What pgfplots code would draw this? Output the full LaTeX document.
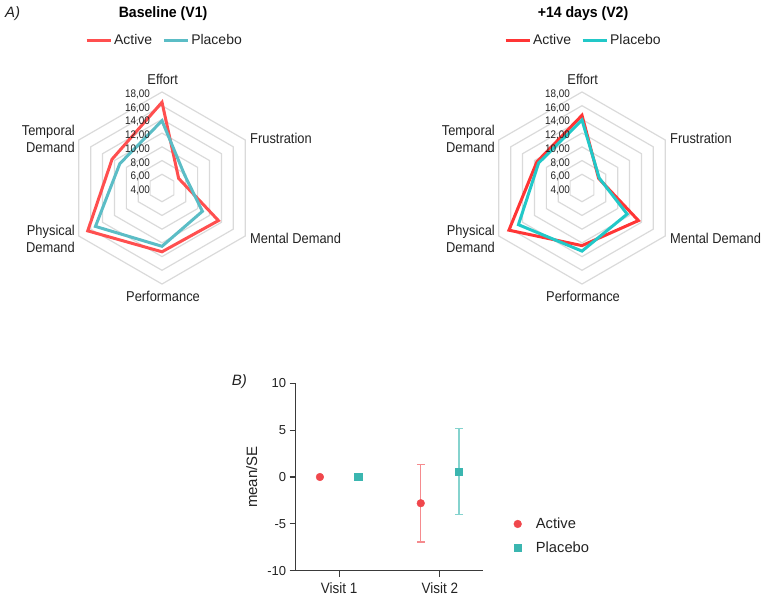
\documentclass[border=0pt]{standalone}
\usepackage{fontspec}
\setmainfont{Liberation Sans}
\usepackage{graphicx}
\usepackage{pgfplots}
\usepackage{pgfplotstable}
\pgfplotsset{compat=1.18}

\definecolor{redA}{HTML}{FF4F4F}
\definecolor{tealA}{HTML}{5BBDC6}
\definecolor{redB}{HTML}{FF3535}
\definecolor{tealB}{HTML}{22C8C8}
\definecolor{gridc}{HTML}{DADADA}
\definecolor{txt}{HTML}{222222}
\definecolor{actm}{HTML}{F0474C}
\definecolor{placm}{HTML}{3BB6B0}
\definecolor{acterr}{HTML}{F58B8E}
\definecolor{placerr}{HTML}{85D3CE}
\definecolor{axc}{HTML}{3A3A3A}

\newcommand\fs[1]{\fontsize{#1bp}{1.15\dimexpr #1bp\relax}\selectfont}
\newcommand\sq[2]{\scalebox{#1}[1]{#2}}

% radar data: angle (deg), value
\pgfplotstableread{
a v
90 16.5
30 6.8
-30 13.5
-90 13.3
-150 16.5
150 12.4
90 16.5
30 6.8
}\VoneActive
\pgfplotstableread{
a v
90 13.8
30 7.8
-30 10.8
-90 12.5
-150 15.2
150 11.1
90 13.8
30 7.8
}\VonePlacebo
\pgfplotstableread{
a v
90 14.6
30 6.8
-30 13.5
-90 12.4
-150 16.3
150 11.6
90 14.6
30 6.8
}\VtwoActive
\pgfplotstableread{
a v
90 13.9
30 6.9
-30 11.6
-90 13.2
-150 14.7
150 11.3
90 13.9
30 6.9
}\VtwoPlacebo
\pgfplotstableread{
a d
90 1
30 1
-30 1
-90 1
-150 1
150 1
90 1
30 1
}\ringtab

% scatter data
\pgfplotstableread{
x y
0.81 0
1.81 -2.8
}\actpts
\pgfplotstableread{
x y
1.19 0
2.19 0.57
}\placpts
\pgfplotstableread{
x y e
1.81 -2.8 4.15
}\acterrtab
\pgfplotstableread{
x y e
2.19 0.57 4.57
}\placerrtab

\pgfplotsset{
  radar/.style={hide axis, scale only axis, width=192.08bp, height=192.08bp,
    xmin=-14, xmax=14, ymin=-14, ymax=14, clip=false, anchor=center,
    legend columns=2, legend cell align=left,
    legend style={draw=none, fill=none, font=\fs{14}, text=txt, anchor=center,
      /tikz/every even column/.append style={column sep=8bp}},
    legend image code/.code={\draw[##1] (0bp,0bp) -- (24bp,0bp);}},
}

\newcommand\rings{%
  \pgfplotsinvokeforeach{6,8,10,12,14,16,18}{%
    \addplot[gridc, line width=1.2bp, forget plot] table[x expr={(##1-4)*cos(\thisrow{a})}, y expr={(##1-4)*sin(\thisrow{a})}] {\ringtab};
  }%
}
\newcommand\tl[2]{\node[anchor=east, inner sep=0pt, font=\fs{11}, text=txt] at (axis cs:-1.75,#1) {\sq{0.9}{#2}};}
\newcommand\radarlabels{%
  \tl{-0.35}{4,00}\tl{1.65}{6,00}\tl{3.65}{8,00}\tl{5.65}{10,00}%
  \tl{7.65}{12,00}\tl{9.65}{14,00}\tl{11.65}{16,00}\tl{13.65}{18,00}%
  \node[anchor=center, inner sep=0pt, font=\fs{14.3}, text=txt] at (axis cs:0.1,15.8) {\sq{0.9}{Effort}};
  \node[anchor=west, inner sep=0pt, font=\fs{14.3}, text=txt] at (axis cs:12.83,7.2) {\sq{0.9}{Frustration}};
  \node[anchor=west, inner sep=0pt, font=\fs{14.3}, text=txt] at (axis cs:12.83,-7.4) {\sq{0.9}{Mental Demand}};
  \node[anchor=center, inner sep=0pt, font=\fs{14.3}, text=txt] at (axis cs:0.15,-15.8) {\sq{0.9}{Performance}};
  \node[anchor=east, inner sep=0pt, align=right, font=\fs{14.3}, text=txt] at (axis cs:-12.68,-7.4) {\sq{0.9}{Physical}\\\sq{0.9}{Demand}};
  \node[anchor=east, inner sep=0pt, align=right, font=\fs{14.3}, text=txt] at (axis cs:-12.68,7.15) {\sq{0.9}{Temporal}\\\sq{0.9}{Demand}};
}

\begin{document}
\begin{tikzpicture}
\useasboundingbox (0,0) rectangle (767bp,599bp);

\node[anchor=west, inner sep=0pt, font=\fs{15}\itshape, text=txt] at (5bp,585.7bp) {A)};
\node[anchor=west, inner sep=0pt, font=\fs{15}\itshape, text=txt] at (231.7bp,217.3bp) {B)};

% ---------- Radar V1 ----------
\begin{axis}[radar, at={(162bp,411bp)}, legend style={at={(0.513,1.268)}}]
\rings
\addplot[redA, line width=3bp] table[x expr={(\thisrow{v}-4)*cos(\thisrow{a})}, y expr={(\thisrow{v}-4)*sin(\thisrow{a})}] {\VoneActive};
\addlegendentry{Active}
\addplot[tealA, line width=3bp] table[x expr={(\thisrow{v}-4)*cos(\thisrow{a})}, y expr={(\thisrow{v}-4)*sin(\thisrow{a})}] {\VonePlacebo};
\addlegendentry{Placebo}
\radarlabels
\node[anchor=center, inner sep=0pt, font=\fs{15}\bfseries, text=black] at (axis cs:0.15,25.4) {\sq{0.94}{Baseline (V1)}};
\end{axis}

% ---------- Radar V2 ----------
\begin{axis}[radar, at={(582bp,411bp)}, legend style={at={(0.507,1.268)}}]
\rings
\addplot[redB, line width=3bp] table[x expr={(\thisrow{v}-4)*cos(\thisrow{a})}, y expr={(\thisrow{v}-4)*sin(\thisrow{a})}] {\VtwoActive};
\addlegendentry{Active}
\addplot[tealB, line width=3bp] table[x expr={(\thisrow{v}-4)*cos(\thisrow{a})}, y expr={(\thisrow{v}-4)*sin(\thisrow{a})}] {\VtwoPlacebo};
\addlegendentry{Placebo}
\radarlabels
\node[anchor=center, inner sep=0pt, font=\fs{15}\bfseries, text=black] at (axis cs:0.15,25.4) {\sq{0.94}{+14 days (V2)}};
\end{axis}

% ---------- Scatter B ----------
\begin{axis}[at={(295.7bp,28.3bp)}, anchor=south west, scale only axis,
  width=187.6bp, height=187.4bp,
  xmin=0.57, xmax=2.43, ymin=-10, ymax=10,
  axis x line=bottom, axis y line=left,
  axis line style={-, line width=1.1bp, draw=axc},
  xtick={1,2}, xticklabels={\sq{0.9}{Visit 1},\sq{0.9}{Visit 2}},
  ytick={-10,-5,0,5,10}, yticklabels={-10,-5,0,5,10},
  tick align=outside, major tick length=6bp,
  tick style={line width=1.1bp, draw=axc},
  yticklabel style={font=\fs{13}, text=txt},
  xticklabel style={font=\fs{15}, text=txt, yshift=-2bp},
  ylabel={mean/SE},
  ylabel style={at={(axis description cs:-0.2345,0.5)}, anchor=center, font=\fs{15}, text=txt},
  clip=false,
  legend cell align=left,
  legend image code/.code={\path (-4bp,0bp) (4bp,0bp); \draw[#1] plot coordinates {(0bp,0bp)};},
  legend style={at={(axis description cs:1.16,0.185)}, anchor=west, draw=none, fill=none,
    inner sep=0pt, font=\fs{14.7}, text=txt, row sep=8bp,
    /tikz/every odd column/.append style={column sep=12bp}},
]
\addplot[forget plot, only marks, mark=none, draw=acterr,
  error bars/.cd, y dir=both, y explicit,
  error bar style={line width=1.3bp, draw=acterr},
  error mark options={rotate=90, mark size=4bp, line width=1.3bp, draw=acterr}]
  table[x=x, y=y, y error=e] {\acterrtab};
\addplot[forget plot, only marks, mark=none, draw=placerr,
  error bars/.cd, y dir=both, y explicit,
  error bar style={line width=1.3bp, draw=placerr},
  error mark options={rotate=90, mark size=4bp, line width=1.3bp, draw=placerr}]
  table[x=x, y=y, y error=e] {\placerrtab};
\addplot[only marks, mark=*, mark size=3.85bp, mark options={fill=actm, draw=actm}, color=actm] table[x=x, y=y] {\actpts};
\addlegendentry{Active}
\addplot[only marks, mark=square*, mark size=3.6bp, mark options={fill=placm, draw=placm}, color=placm] table[x=x, y=y] {\placpts};
\addlegendentry{Placebo}
\end{axis}
\end{tikzpicture}
\end{document}
